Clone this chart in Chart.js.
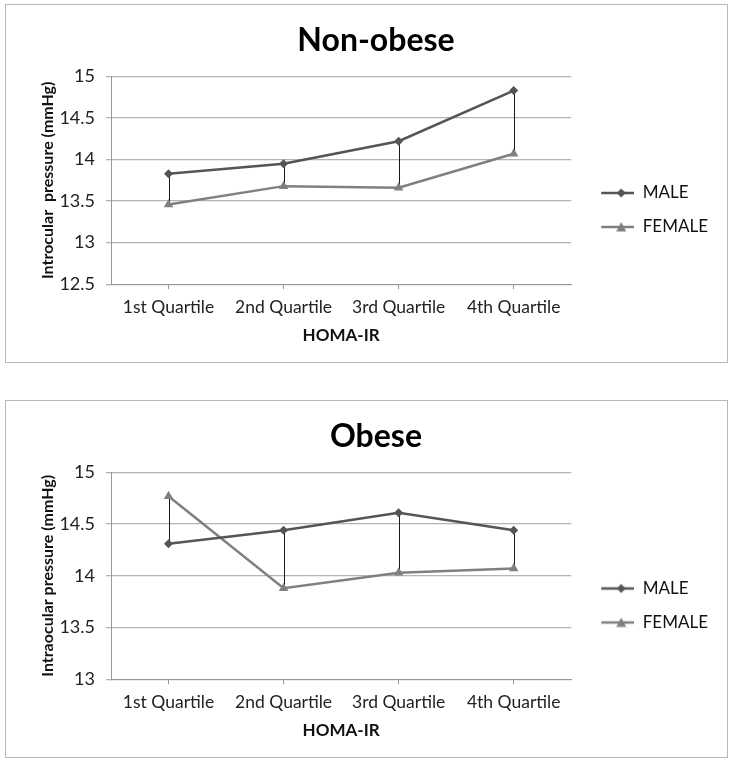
<!DOCTYPE html>
<html>
<head>
<meta charset="utf-8">
<script src="https://cdn.jsdelivr.net/npm/chart.js@4.4.1/dist/chart.umd.min.js"></script>
<style>
  body { margin: 0; background: #fff; }
  .box { position: absolute; left: 5px; width: 721px; border: 1px solid #b8b8b8; background: #fff; }
  #boxTop { top: 4px; height: 357px; }
  #boxBottom { top: 400px; height: 356px; }
  canvas { display: block; }
</style>
</head>
<body>
<div class="box" id="boxTop"><canvas id="nonObese" width="721" height="357"></canvas></div>
<div class="box" id="boxBottom"><canvas id="obese" width="721" height="356"></canvas></div>
<script>
const categories = ['1st Quartile', '2nd Quartile', '3rd Quartile', '4th Quartile'];
const seriesNames = ['MALE', 'FEMALE'];

const nonObeseMale = [13.83, 13.95, 14.22, 14.83];
const nonObeseFemale = [13.46, 13.68, 13.66, 14.07];
const nonObeseTicks = [12.5, 13, 13.5, 14, 14.5, 15];

const obeseMale = [14.31, 14.44, 14.61, 14.44];
const obeseFemale = [14.77, 13.88, 14.03, 14.07];
const obeseTicks = [13, 13.5, 14, 14.5, 15];

const FONT = 'Lato, "Open Sans", sans-serif';
const MALE_COLOR = '#555555';
const FEMALE_COLOR = '#808080';

// legend swatch: short line with the marker on it, like the spreadsheet legend
function legendSwatch(color, style) {
  const c = document.createElement('canvas');
  c.width = 46; c.height = 12;
  const g = c.getContext('2d');
  g.strokeStyle = color;
  g.lineWidth = 2.5;
  g.beginPath(); g.moveTo(13, 6); g.lineTo(46, 6); g.stroke();
  g.fillStyle = color;
  g.beginPath();
  if (style === 'diamond') {
    g.moveTo(33, 1.5); g.lineTo(37.5, 6); g.lineTo(33, 10.5); g.lineTo(28.5, 6);
  } else {
    g.moveTo(33, 1); g.lineTo(38, 10.5); g.lineTo(28, 10.5);
  }
  g.closePath(); g.fill();
  return c;
}

// vertical hi-low lines between the two series at each category
const dropLines = {
  id: 'dropLines',
  beforeDatasetsDraw(chart) {
    const a = chart.getDatasetMeta(0).data;
    const b = chart.getDatasetMeta(1).data;
    const ctx = chart.ctx;
    ctx.save();
    ctx.strokeStyle = '#1a1a1a';
    ctx.lineWidth = 1;
    for (let i = 0; i < a.length; i++) {
      const x = Math.round(a[i].x) + 0.5;
      ctx.beginPath();
      ctx.moveTo(x, a[i].y);
      ctx.lineTo(x, b[i].y);
      ctx.stroke();
    }
    ctx.restore();
  }
};

function makeChart(id, title, yTitle, male, female, ticks) {
  const swatches = [legendSwatch(MALE_COLOR, 'diamond'), legendSwatch(FEMALE_COLOR, 'triangle')];
  return new Chart(document.getElementById(id), {
    type: 'line',
    data: {
      labels: categories,
      datasets: [
        {
          label: seriesNames[0],
          data: male,
          borderColor: MALE_COLOR,
          backgroundColor: MALE_COLOR,
          borderWidth: 2.5,
          pointStyle: 'rectRot',
          pointRadius: 4.5,
          pointBorderWidth: 0,
          tension: 0
        },
        {
          label: seriesNames[1],
          data: female,
          borderColor: FEMALE_COLOR,
          backgroundColor: FEMALE_COLOR,
          borderWidth: 2.5,
          pointStyle: 'triangle',
          pointRadius: 5.5,
          pointBorderWidth: 0,
          tension: 0
        }
      ]
    },
    options: {
      responsive: false,
      animation: false,
      layout: { padding: { left: 28, right: 9, top: 0, bottom: 15 } },
      scales: {
        x: {
          offset: true,
          grid: { drawOnChartArea: false, drawTicks: true, tickLength: 5, color: '#999', offset: false },
          border: { color: '#999' },
          ticks: { color: '#222', font: { family: FONT, size: 17.5, lineHeight: 1.05 }, padding: 9, maxRotation: 0 },
          title: { display: true, text: 'HOMA-IR', color: '#111', font: { family: FONT, size: 17, weight: 'bold' }, padding: { top: 0, bottom: 1 } }
        },
        y: {
          min: ticks[0],
          max: ticks[ticks.length - 1],
          afterBuildTicks(axis) { axis.ticks = ticks.map(v => ({ value: v })); },
          afterFit(axis) { axis.width = 77; },
          grid: { color: '#b4b4b4', lineWidth: 1.3, tickLength: 5 },
          border: { color: '#999' },
          ticks: { color: '#222', font: { family: FONT, size: 18 }, padding: 11, callback: v => String(v) },
          title: { display: true, text: yTitle, color: '#111', font: { family: FONT, size: 16, weight: 'bold' }, padding: { bottom: 6 } }
        }
      },
      plugins: {
        title: {
          display: true,
          text: title,
          color: '#000',
          font: { family: FONT, size: 32, weight: 'bold' },
          padding: { top: 16, bottom: 17 }
        },
        legend: {
          position: 'right',
          title: { display: true, text: ' ', font: { size: 10 }, padding: { top: 56, bottom: 0 } },
          labels: {
            color: '#111',
            font: { family: FONT, size: 17 },
            usePointStyle: true,
            pointStyleWidth: 46,
            padding: 17,
            generateLabels(chart) {
              return seriesNames.map((n, i) => ({
                text: n, pointStyle: swatches[i], datasetIndex: i,
                fillStyle: 'transparent', strokeStyle: 'transparent', lineWidth: 0, fontColor: '#111'
              }));
            }
          }
        },
        tooltip: { enabled: false }
      }
    },
    plugins: [dropLines]
  });
}

makeChart('nonObese', 'Non-obese', 'Introcular  pressure (mmHg)', nonObeseMale, nonObeseFemale, nonObeseTicks);
makeChart('obese', 'Obese', 'Intraocular pressure (mmHg)', obeseMale, obeseFemale, obeseTicks);
</script>
</body>
</html>
